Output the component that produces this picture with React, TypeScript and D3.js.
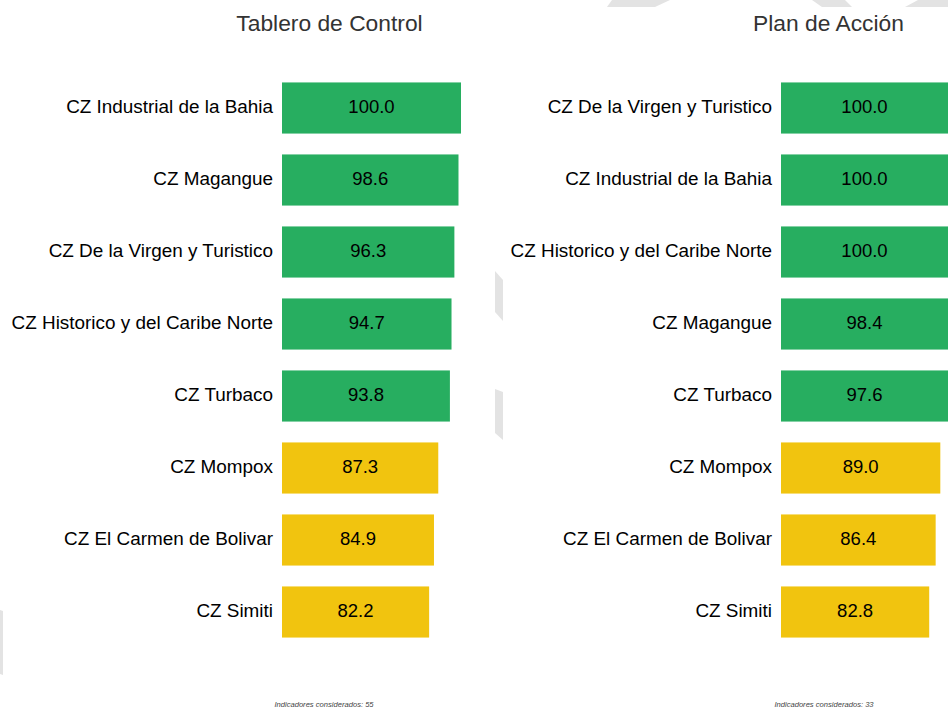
import React, { useEffect, useRef } from 'react'
import * as d3 from 'd3'

// Tablero de Control
const tableroLabels = [
  'CZ Industrial de la Bahia',
  'CZ Magangue',
  'CZ De la Virgen y Turistico',
  'CZ Historico y del Caribe Norte',
  'CZ Turbaco',
  'CZ Mompox',
  'CZ El Carmen de Bolivar',
  'CZ Simiti',
]
const tableroValues = [100.0, 98.6, 96.3, 94.7, 93.8, 87.3, 84.9, 82.2]

// Plan de Acción
const planLabels = [
  'CZ De la Virgen y Turistico',
  'CZ Industrial de la Bahia',
  'CZ Historico y del Caribe Norte',
  'CZ Magangue',
  'CZ Turbaco',
  'CZ Mompox',
  'CZ El Carmen de Bolivar',
  'CZ Simiti',
]
const planValues = [100.0, 100.0, 100.0, 98.4, 97.6, 89.0, 86.4, 82.8]

const panelTitles = ['Tablero de Control', 'Plan de Acción']
const indicatorCounts = [55, 33]

const GREEN = '#27ae60'
const YELLOW = '#f1c40f'
const FONT = '"Liberation Sans", Arial, Helvetica, sans-serif'

function App() {
  const ref = useRef<SVGSVGElement | null>(null)

  useEffect(() => {
    const width = 948
    const height = 708
    const svg = d3.select(ref.current)
    svg.selectAll('*').remove()

    // background watermark pieces
    const wm = svg.append('g').attr('fill', '#e3e3e3')
    const shapes = [
      [[612, 0], [670, 0], [655, 7], [607, 7]],
      [[812, 0], [845, 0], [852, 7], [822, 7]],
      [[918, 0], [948, 0], [948, 7], [905, 7]],
      [[495, 271], [503, 280], [503, 321], [495, 312]],
      [[495, 389], [503, 392], [503, 440], [495, 433]],
      [[0, 610], [3, 611], [3, 675], [0, 674]],
    ]
    shapes.forEach(p => {
      wm.append('polygon').attr('points', p.map(q => q.join(',')).join(' '))
    })

    const panels = [
      { labels: tableroLabels, values: tableroValues, x0: 282, titleX: 329.5, footX: 324 },
      { labels: planLabels, values: planValues, x0: 781, titleX: 828.5, footX: 824 },
    ]

    panels.forEach((p, i) => {
      const g = svg.append('g')

      const x = d3.scaleLinear().domain([0, 100]).range([p.x0, p.x0 + 179])
      const y = d3.scaleBand<string>()
        .domain(p.labels)
        .range([72, 72 + 72 * p.labels.length])
        .paddingInner(0.29)
        .paddingOuter(0.145)

      g.append('text')
        .attr('x', p.titleX)
        .attr('y', 31)
        .attr('text-anchor', 'middle')
        .attr('font-size', 22.8)
        .attr('fill', '#333')
        .text(panelTitles[i])

      const rows = g.selectAll('g.row')
        .data(p.labels.map((l, k) => ({ label: l, value: p.values[k] })))
        .join('g')
        .attr('class', 'row')

      rows.append('rect')
        .attr('x', x(0))
        .attr('y', d => y(d.label)!)
        .attr('width', d => x(d.value) - x(0))
        .attr('height', y.bandwidth())
        .attr('fill', d => d.value >= 90 ? GREEN : YELLOW)

      rows.append('text')
        .attr('x', x(0) - 9)
        .attr('y', d => y(d.label)! + y.bandwidth() / 2)
        .attr('dy', '0.28em')
        .attr('text-anchor', 'end')
        .attr('font-size', 18.9)
        .attr('fill', '#000')
        .text(d => d.label)

      rows.append('text')
        .attr('x', d => (x(0) + Math.min(x(d.value), width)) / 2)
        .attr('y', d => y(d.label)! + y.bandwidth() / 2)
        .attr('dy', '0.28em')
        .attr('text-anchor', 'middle')
        .attr('font-size', 18.5)
        .attr('fill', '#000')
        .text(d => d.value.toFixed(1))

      g.append('text')
        .attr('x', p.footX)
        .attr('y', height - 1)
        .attr('text-anchor', 'middle')
        .attr('font-size', 7.6)
        .attr('font-style', 'italic')
        .attr('fill', '#444')
        .text(`Indicadores considerados: ${indicatorCounts[i]}`)
    })
  }, [])

  return (
    <svg
      ref={ref}
      width={948}
      height={708}
      style={{ position: 'absolute', left: 0, top: 0, fontFamily: FONT, background: '#fff' }}
    />
  )
}

export default App
